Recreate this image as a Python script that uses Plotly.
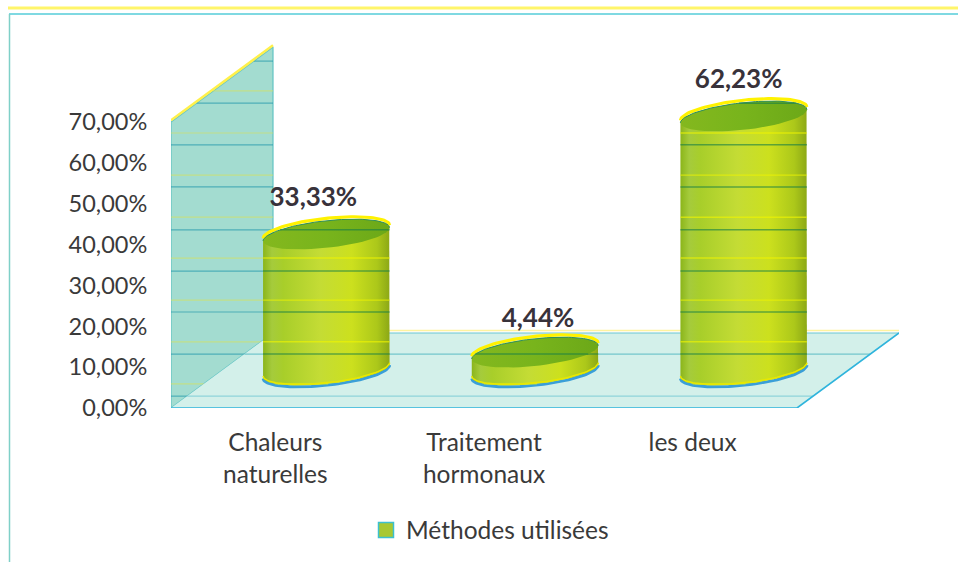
import numpy as np
import plotly.graph_objects as go

categories_line1 = ["Chaleurs", "Traitement", "les deux"]
categories_line2 = ["naturelles", "hormonaux", ""]
values = [33.33, 4.44, 62.23]
value_labels = ["33,33%", "4,44%", "62,23%"]
y_ticks = [0, 10, 20, 30, 40, 50, 60, 70]
y_tick_labels = ["0,00%", "10,00%", "20,00%", "30,00%", "40,00%", "50,00%", "60,00%", "70,00%"]
series_name = "Méthodes utilisées"
dark_band_levels = [2.9, 13.2, 23.5, 33.5, 43.6, 54.1, 64.4, 74.6, 84.9]
yellow_band_levels = [5.9, 16.2, 26.4, 36.7, 46.7, 57.0, 67.3, 77.6]

W, H = 958, 562
PX_X = 208.67
PX_Y = 4.086
L, B, T = 171, 154, 10
DX = 102 / PX_X
DY = 75 / PX_Y
X_MAX = 2.5 + DX
PLOT_H = H - B - T
LABEL_SHIFT_X = [-13, 3, -5]
LABEL_SHIFT_Y = [-35, -32, -35]
FONT = "Lato, Carlito, sans-serif"


def P(c, d, v):
    return c + d * DX, v + d * DY


def poly(points):
    xs, ys = zip(*points)
    return list(xs) + [xs[0]], list(ys) + [ys[0]]


def crossings(xs, ys, level):
    out = []
    for i in range(len(xs) - 1):
        a, b = ys[i], ys[i + 1]
        if (a - level) * (b - level) < 0:
            out.append(xs[i] + (level - a) / (b - a) * (xs[i + 1] - xs[i]))
    out.sort()
    return out


def bands(xs, ys, levels, color, width):
    bx, by = [], []
    for lv in levels:
        c = crossings(xs, ys, lv)
        for i in range(0, len(c) - 1, 2):
            bx += [c[i], c[i + 1], None]
            by += [lv, lv, None]
    return go.Scatter(x=bx, y=by, mode="lines", line=dict(color=color, width=width),
                      hoverinfo="skip", showlegend=False)


A, BB, C, E = 60 / PX_X, 20 / PX_X, 15 / PX_Y, 2.0 / PX_Y
T0 = np.arctan2(BB, A)


def arc(cx, cy, t1, t2, dy=0.0):
    t = np.linspace(t1, t2, 60)
    return (cx + A * np.cos(t) + BB * np.sin(t)).tolist(), (cy + dy + C * np.sin(t) + E * np.cos(t)).tolist()


def lines(x, y, color, width):
    return go.Scatter(x=x, y=y, mode="lines", line=dict(color=color, width=width),
                      hoverinfo="skip", showlegend=False)


fig = go.Figure()

# wall and floor
wx, wy = poly([P(-.5, 0, 0), P(-.5, 1, 0), P(-.5, 1, 70), P(-.5, 0, 70)])
fig.add_trace(go.Scatter(x=wx, y=wy, mode="lines", fill="toself", fillcolor="#A3DCD0",
                         line=dict(color="#62C4C4", width=1.2), hoverinfo="skip", showlegend=False))
fig.add_trace(bands(wx, wy, yellow_band_levels, "rgba(215,225,90,0.6)", 1.2))
fig.add_trace(bands(wx, wy, dark_band_levels, "rgba(30,150,170,0.65)", 1.2))
p1, p2 = P(-.5, 0, 70), P(-.5, 1, 70)
fig.add_trace(lines([p1[0], p2[0]], [p1[1] + .4, p2[1] + .4], "#FFF04A", 2.5))

fx, fy = poly([P(-.5, 0, 0), P(2.5, 0, 0), P(2.5, 1, 0), P(-.5, 1, 0)])
fig.add_trace(go.Scatter(x=fx, y=fy, mode="lines", fill="toself", fillcolor="#D3F0EA",
                         line=dict(width=0), hoverinfo="skip", showlegend=False))
fig.add_trace(bands(fx, fy, [2.9], "rgba(90,190,205,0.55)", 1.2))
fig.add_trace(bands(fx, fy, [13.2], "rgba(50,170,185,0.6)", 1.2))
a, b, c_ = P(-.5, 0, 0), P(2.5, 0, 0), P(2.5, 1, 0)
d_ = P(-.5, 1, 0)
fig.add_trace(lines([d_[0], c_[0]], [d_[1] + .6, c_[1] + .6], "#FFF3A0", 1.5))
fig.add_trace(lines([d_[0], c_[0]], [d_[1], c_[1]], "#6CC6D2", 1.2))
fig.add_trace(lines([a[0], b[0], c_[0]], [a[1], b[1], c_[1]], "#2FB4DC", 1.6))

# cylinders
for i, v in enumerate(values):
    cx, cy = P(i, .5, 0)
    cyt = cy + v
    lowx, lowy = arc(cx, cy, T0 + np.pi, T0 + 2 * np.pi)
    upx, upy = arc(cx, cyt, T0, T0 + np.pi)
    bodyx = lowx + upx + lowx[:1]
    bodyy = lowy + upy + lowy[:1]
    fig.add_trace(lines(lowx, [y - .3 for y in lowy], "#3A9FD8", 3))
    fig.add_trace(go.Scatter(
        x=bodyx, y=bodyy, mode="lines", fill="toself", line=dict(width=0),
        fillgradient=dict(type="horizontal", colorscale=[
            [0, "#8BB51A"], [.07, "#A5CB3C"], [.16, "#A8CE2A"], [.45, "#C4DC35"],
            [.7, "#CCE01E"], [.9, "#ACC81A"], [1, "#8CA816"]]),
        hoverinfo="skip", showlegend=False))
    fig.add_trace(bands(bodyx, bodyy, yellow_band_levels, "rgba(240,245,0,0.65)", 1.4))
    fig.add_trace(lines(lowx, [y + .3 for y in lowy], "#E8E800", 1.5))
    fig.add_trace(bands(bodyx, bodyy, dark_band_levels, "rgba(20,125,70,0.6)", 1.5))
    # top cap
    tx, ty = arc(cx, cyt, 0, 2 * np.pi)
    fig.add_trace(go.Scatter(
        x=tx, y=ty, mode="lines", fill="toself", line=dict(width=0),
        fillgradient=dict(type="horizontal", colorscale=[
            [0, "#84B81E"], [.5, "#78B41C"], [1, "#6CA818"]]),
        hoverinfo="skip", showlegend=False))
    fig.add_trace(bands(tx, ty, dark_band_levels, "rgba(20,125,70,0.6)", 1.5))
    ux2, uy2 = arc(cx, cyt, T0, T0 + np.pi, dy=.6)
    fig.add_trace(lines(ux2, uy2, "#FFF200", 3.2))
    fig.add_trace(lines(upx, upy, "#2F8F5A", 1))

# value labels
lx = [P(i, .5, 0)[0] + LABEL_SHIFT_X[i] / PX_X for i in range(3)]
ly = [P(i, .5, 0)[1] + v - LABEL_SHIFT_Y[i] / PX_Y for i, v in enumerate(values)]
fig.add_trace(go.Scatter(x=lx, y=ly, mode="text", text=value_labels, textposition="middle center",
                         textfont=dict(family=FONT, size=26, color="#38323A", weight="bold"),
                         hoverinfo="skip", showlegend=False))
# legend entry
fig.add_trace(go.Scatter(x=[None], y=[None], mode="markers", name=series_name,
                         marker=dict(symbol="square", size=15, color="#A8C832",
                                     line=dict(color="#3CC0D0", width=1.5))))
# second line of the category labels
fig.add_trace(go.Scatter(x=[None], y=[None], xaxis="x2", showlegend=False))

tick_font = dict(family=FONT, size=24.5, color="#3A3A3A")
y_tick_font = dict(family=FONT, size=23.5, color="#3A3A3A")
fig.update_layout(
    width=W, height=H, autosize=False, paper_bgcolor="white", plot_bgcolor="white",
    margin=dict(l=L, r=W - L - int(round((X_MAX + .5) * PX_X)), t=T, b=B, pad=0),
    font=dict(family=FONT),
    xaxis=dict(range=[-.5, X_MAX], tickvals=[0, 1, 2], ticktext=categories_line1, tickfont=tick_font,
               ticks="outside", ticklen=13, tickcolor="rgba(0,0,0,0)", showgrid=False, zeroline=False,
               showline=False),
    xaxis2=dict(range=[-.5, X_MAX], tickvals=[0, 1, 2], ticktext=categories_line2, tickfont=tick_font,
                ticks="outside", ticklen=45, tickcolor="rgba(0,0,0,0)", showgrid=False, zeroline=False,
                showline=False, overlaying="x", side="bottom", anchor="y"),
    yaxis=dict(range=[0, PLOT_H / PX_Y], tickvals=y_ticks, ticktext=y_tick_labels, tickfont=y_tick_font,
               ticks="outside", ticklen=18, tickcolor="rgba(0,0,0,0)", showgrid=False, zeroline=False,
               showline=False),
    legend=dict(x=(366 - L) / (W - L - 59), y=-(530 - (H - B)) / PLOT_H, xanchor="left", yanchor="middle",
                font=dict(family=FONT, size=24.5, color="#3A3A3A"), bgcolor="rgba(0,0,0,0)",
                itemwidth=30),
    showlegend=True,
)


def px(x):
    return (x - L) / (W - L - 59)


def py(y):
    return (H - B - y) / PLOT_H


frame = [
    (8, 8, 958, 8, "#FFF56A", 3),
    (9, 14, 958, 14, "#55CCD8", 1.6),
    (9.5, 14, 9.5, 562, "#7FD0C8", 1.5),
]
fig.update_layout(shapes=[
    dict(type="line", xref="paper", yref="paper", x0=px(a), y0=py(b), x1=px(c), y1=py(d),
         line=dict(color=col, width=w), layer="below")
    for a, b, c, d, col, w in frame])

fig.write_html("out.html", config=dict(displayModeBar=False),
               post_script="document.body.style.margin='0';document.body.style.overflow='hidden';")
